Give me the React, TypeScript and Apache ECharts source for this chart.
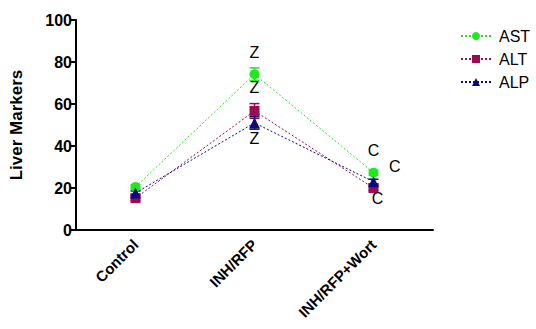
import React, { useEffect, useRef } from "react";
import * as echarts from "echarts";

const categories = ["Control", "INH/RFP", "INH/RFP+Wort"];
const seriesNames = ["AST", "ALT", "ALP"];
const astValues = [20.5, 74.2, 27.3];
const altValues = [15.2, 56.7, 20.0];
const alpValues = [17.6, 51.0, 23.0];
const astErrors = [1.0, 3.0, 1.2];
const altErrors = [1.0, 3.5, 1.2];
const alpErrors = [1.0, 3.0, 1.2];
const astLetters = ["", "Z", "C"];
const altLetters = ["", "Z", "C"];
const alpLetters = ["", "Z", "C"];
const yTicks = [0, 20, 40, 60, 80, 100];

const colors = ["#22e622", "#9b0a52", "#0a0a80"];
const symbols = ["circle", "rect", "triangle"];

export default function App() {
  const ref = useRef<HTMLDivElement>(null);
  useEffect(() => {
    if (!ref.current) return;
    const chart = echarts.init(ref.current, undefined, { renderer: "svg" });
    const values = [astValues, altValues, alpValues];
    const errors = [astErrors, altErrors, alpErrors];
    const letters = [astLetters, altLetters, alpLetters];
    const labelPos: any[][] = [
      [null, { position: "top", distance: 9 }, { position: "top", distance: 9 }],
      [null, { position: "top", distance: 10 }, { position: "bottom", distance: 0, offset: [4, -3] }],
      [null, { position: "bottom", distance: 2 }, { position: "right", distance: 10, offset: [0, -15] }],
    ];
    const lineSeries = values.map((vals, s) => ({
      name: seriesNames[s],
      type: "line",
      data: vals.map((v, i) => ({
        value: v,
        label: letters[s][i]
          ? {
              show: true,
              formatter: letters[s][i],
              color: "#000",
              fontSize: 16,
              fontFamily: "Liberation Sans",
              ...labelPos[s][i],
            }
          : { show: false },
      })),
      symbol: symbols[s],
      symbolSize: s === 2 ? 11 : 10,
      itemStyle: { color: colors[s] },
      lineStyle: { color: colors[s], width: 1, type: [2, 2] },
      z: 3 + s,
    }));
    const errorSeries = values.map((vals, s) => ({
      name: seriesNames[s] + "_err",
      type: "custom",
      data: vals.map((v, i) => [i, v - errors[s][i], v + errors[s][i]]),
      renderItem: (params: any, api: any) => {
        const x = api.value(0);
        const lo = api.coord([x, api.value(1)]);
        const hi = api.coord([x, api.value(2)]);
        const hw = 5;
        const style = { stroke: colors[s], lineWidth: 1.5 };
        return {
          type: "group",
          children: [
            { type: "line", shape: { x1: lo[0], y1: lo[1], x2: hi[0], y2: hi[1] }, style },
            { type: "line", shape: { x1: lo[0] - hw, y1: lo[1], x2: lo[0] + hw, y2: lo[1] }, style },
            { type: "line", shape: { x1: hi[0] - hw, y1: hi[1], x2: hi[0] + hw, y2: hi[1] }, style },
          ],
        };
      },
      z: 2,
      silent: true,
    }));
    chart.setOption({
      animation: false,
      grid: { left: 73, right: 103, top: 20, bottom: 99, containLabel: false },
      legend: {
        data: seriesNames,
        orient: "vertical",
        left: 455,
        top: 23,
        itemWidth: 30,
        itemHeight: 10,
        itemGap: 7,
        textStyle: { fontSize: 16, fontFamily: "Liberation Sans", color: "#000", padding: [0, 0, 0, 3] },
      },
      xAxis: {
        type: "category",
        data: categories,
        boundaryGap: true,
        axisLine: { lineStyle: { color: "#000", width: 2 } },
        axisTick: { alignWithLabel: true, length: 5, lineStyle: { color: "#000", width: 2 } },
        axisLabel: {
          rotate: 45,
          margin: 12,
          fontSize: 15,
          fontWeight: "bold",
          fontFamily: "Liberation Sans",
          color: "#000",
          interval: 0,
        },
      },
      yAxis: {
        type: "value",
        min: yTicks[0],
        max: yTicks[yTicks.length - 1],
        interval: 20,
        name: "Liver Markers",
        nameLocation: "middle",
        nameGap: 51,
        nameTextStyle: { fontSize: 17, fontWeight: "bold", fontFamily: "Liberation Sans", color: "#000" },
        splitLine: { show: false },
        axisLine: { show: true, lineStyle: { color: "#000", width: 2 } },
        axisTick: { show: true, length: 6, lineStyle: { color: "#000", width: 2 } },
        axisLabel: { fontSize: 16, fontWeight: "bold", fontFamily: "Liberation Sans", color: "#000", margin: 4 },
      },
      series: [...errorSeries, ...lineSeries],
    });
    return () => chart.dispose();
  }, []);
  return <div ref={ref} style={{ width: 536, height: 329, position: "absolute", left: 0, top: 0 }} />;
}
